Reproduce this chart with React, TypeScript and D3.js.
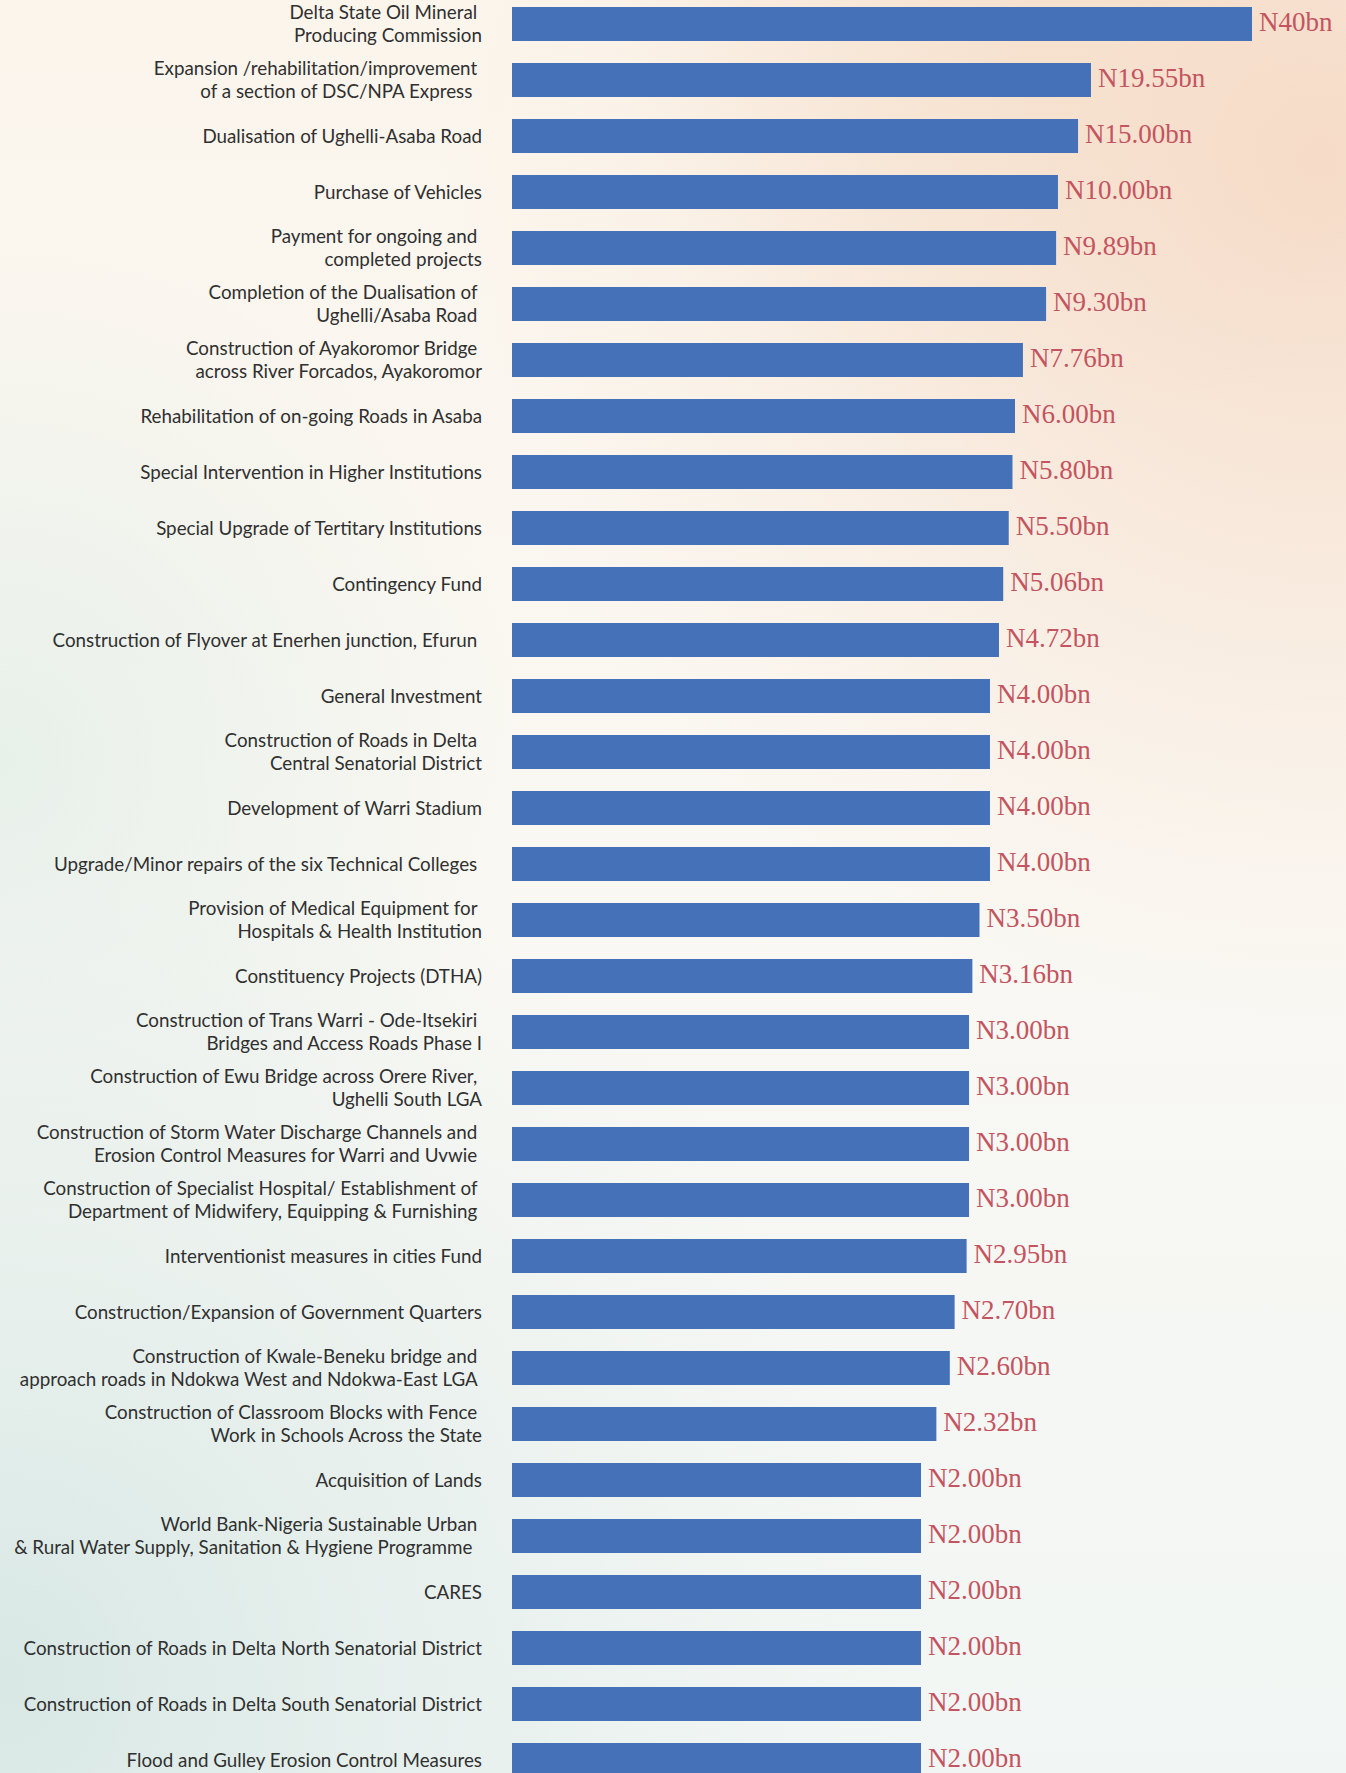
import * as d3 from "d3";

// Projects (lines split by "\n"; trailing spaces kept as in the original)
const projects = [
  "Delta State Oil Mineral \nProducing Commission",
  "Expansion /rehabilitation/improvement \nof a section of DSC/NPA Express  ",
  "Dualisation of Ughelli-Asaba Road",
  "Purchase of Vehicles",
  "Payment for ongoing and \ncompleted projects",
  "Completion of the Dualisation of \nUghelli/Asaba Road ",
  "Construction of Ayakoromor Bridge \nacross River Forcados, Ayakoromor",
  "Rehabilitation of on-going Roads in Asaba",
  "Special Intervention in Higher Institutions",
  "Special Upgrade of Tertitary Institutions",
  "Contingency Fund",
  "Construction of Flyover at Enerhen junction, Efurun ",
  "General Investment",
  "Construction of Roads in Delta \nCentral Senatorial District",
  "Development of Warri Stadium",
  "Upgrade/Minor repairs of the six Technical Colleges ",
  "Provision of Medical Equipment for \nHospitals & Health Institution",
  "Constituency Projects (DTHA)",
  "Construction of Trans Warri - Ode-Itsekiri \nBridges and Access Roads Phase I",
  "Construction of Ewu Bridge across Orere River, \nUghelli South LGA",
  "Construction of Storm Water Discharge Channels and \nErosion Control Measures for Warri and Uvwie ",
  "Construction of Specialist Hospital/ Establishment of \nDepartment of Midwifery, Equipping & Furnishing ",
  "Interventionist measures in cities Fund",
  "Construction/Expansion of Government Quarters",
  "Construction of Kwale-Beneku bridge and \napproach roads in Ndokwa West and Ndokwa-East LGA ",
  "Construction of Classroom Blocks with Fence \nWork in Schools Across the State",
  "Acquisition of Lands",
  "World Bank-Nigeria Sustainable Urban \n& Rural Water Supply, Sanitation & Hygiene Programme  ",
  "CARES",
  "Construction of Roads in Delta North Senatorial District",
  "Construction of Roads in Delta South Senatorial District",
  "Flood and Gulley Erosion Control Measures",
];

// amounts in billions of naira
const amounts = [
  40, 19.55, 15, 10, 9.89, 9.3, 7.76, 6, 5.8, 5.5, 5.06, 4.72, 4, 4, 4, 4,
  3.5, 3.16, 3, 3, 3, 3, 2.95, 2.7, 2.6, 2.32, 2, 2, 2, 2, 2, 2,
];

const fmt = (v: number) => (v >= 20 ? `N${v}bn` : `N${v.toFixed(2)}bn`);

export default function App() {
  const width = 1346;
  const height = 1773;
  const barLeft = 512;
  const barMax = 740;
  const step = 56;
  const labelRight = 482;

  // the infographic compresses its value axis, so the scale is piecewise
  const x = d3
    .scaleLinear()
    .domain([0, 2, 3, 4, 6, 8, 10, 15, 19.55, 40])
    .range([0, 0.5527, 0.6176, 0.6459, 0.6797, 0.6919, 0.7378, 0.7649, 0.7824, 1].map((f) => f * barMax));

  const y = d3
    .scaleBand<number>()
    .domain(d3.range(projects.length))
    .range([0, projects.length * step])
    .paddingInner(0.393)
    .paddingOuter(0.1965);

  const bw = y.bandwidth();
  const top = 7 - (y(0) ?? 0);

  return (
    <svg
      width={width}
      height={height}
      style={{ position: "absolute", left: 0, top: 0, display: "block" }}
    >
      <defs>
        <linearGradient id="base" x1="0" y1="0" x2="0" y2="1">
          <stop offset="0" stopColor="#FBF5EC" />
          <stop offset="0.5" stopColor="#FAF8F3" />
          <stop offset="1" stopColor="#F1F6F4" />
        </linearGradient>
        <radialGradient id="peach" cx="1320" cy="160" r="880" gradientUnits="userSpaceOnUse">
          <stop offset="0" stopColor="#F4D4BE" stopOpacity="0.8" />
          <stop offset="0.5" stopColor="#F6DFCD" stopOpacity="0.5" />
          <stop offset="1" stopColor="#F8E8DA" stopOpacity="0" />
        </radialGradient>
        <radialGradient id="peach2" cx="1050" cy="20" r="420" gradientUnits="userSpaceOnUse">
          <stop offset="0" stopColor="#F5DCC6" stopOpacity="0.5" />
          <stop offset="1" stopColor="#F5DCC6" stopOpacity="0" />
        </radialGradient>
        <radialGradient id="teal" cx="0" cy="1680" r="900" gradientUnits="userSpaceOnUse">
          <stop offset="0" stopColor="#D5E6E3" stopOpacity="0.9" />
          <stop offset="0.6" stopColor="#E0ECE9" stopOpacity="0.45" />
          <stop offset="1" stopColor="#E8F0EE" stopOpacity="0" />
        </radialGradient>
        <radialGradient id="mint" cx="0" cy="760" r="520" gradientUnits="userSpaceOnUse">
          <stop offset="0" stopColor="#E3EEE8" stopOpacity="0.8" />
          <stop offset="1" stopColor="#E3EEE8" stopOpacity="0" />
        </radialGradient>
      </defs>

      <rect width={width} height={height} fill="url(#base)" />
      <rect width={width} height={height} fill="url(#mint)" />
      <rect width={width} height={height} fill="url(#teal)" />
      <rect width={width} height={height} fill="url(#peach)" />
      <rect width={width} height={height} fill="url(#peach2)" />

      <g transform={`translate(0,${top})`}>
        {amounts.map((v, i) => {
          const yc = (y(i) ?? 0) + bw / 2;
          const lines = projects[i].split("\n");
          const lh = 22.6;
          const y0 = yc - ((lines.length - 1) * lh) / 2 + 6.6;
          return (
            <g key={i}>
              <rect x={barLeft} y={y(i)} width={x(v)} height={bw} fill="#4571B8" />
              <text
                x={barLeft + x(v) + 7}
                y={yc + 7.3}
                fill="#C4545F"
                fontFamily="'Liberation Serif', 'DejaVu Serif', serif"
                fontSize={27}
              >
                {fmt(v)}
              </text>
              <text
                textAnchor="end"
                fill="#303030"
                fontFamily="Lato, 'Open Sans', sans-serif"
                fontSize={18.8}
                xmlSpace="preserve"
                style={{ whiteSpace: "pre" }}
              >
                {lines.map((ln, k) => (
                  <tspan key={k} x={labelRight} y={y0 + k * lh}>
                    {ln}
                  </tspan>
                ))}
              </text>
            </g>
          );
        })}
      </g>
    </svg>
  );
}
